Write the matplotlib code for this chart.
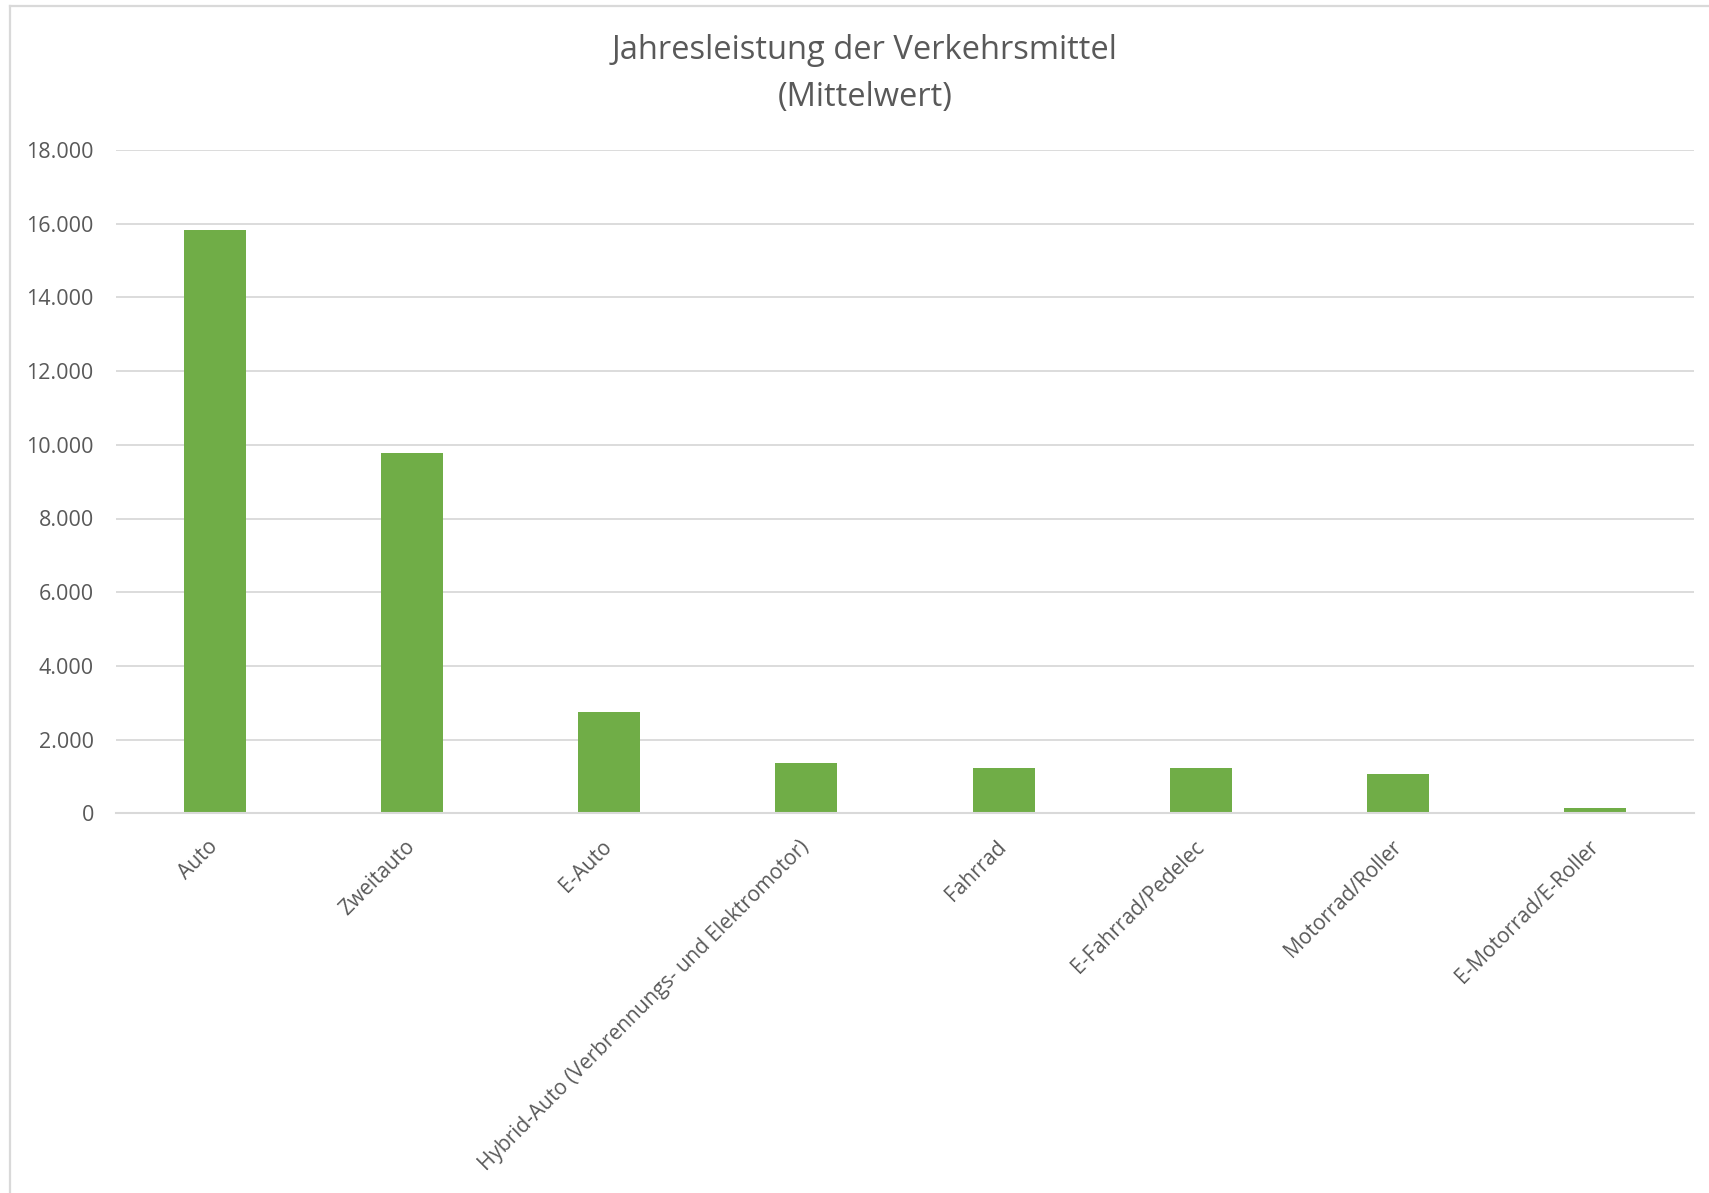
import matplotlib.pyplot as plt
from matplotlib.lines import Line2D
from matplotlib.ticker import FuncFormatter

plt.rcParams['font.family'] = ['Open Sans', 'DejaVu Sans']

# Jahresleistung in km (Mittelwert)
categories = ["Auto", "Zweitauto", "E-Auto",
              "Hybrid-Auto (Verbrennungs- und Elektromotor)",
              "Fahrrad", "E-Fahrrad/Pedelec", "Motorrad/Roller",
              "E-Motorrad/E-Roller"]
values = [15820, 9790, 2750, 1375, 1240, 1230, 1075, 145]
yticks = [0, 2000, 4000, 6000, 8000, 10000, 12000, 14000, 16000, 18000]

grey_text = "#595959"
grid_col = "#d9d9d9"
bar_col = "#70ad47"

W, H = 1709, 1193
fig = plt.figure(figsize=(W / 100, H / 100), dpi=100)
ax = fig.add_axes([116 / W, 1 - 813.3 / H, (1694 - 116) / W, (813.3 - 150) / H])

x = range(len(categories))
ax.bar(x, values, width=0.315, color=bar_col, zorder=3)

ax.set_xlim(-0.5, len(categories) - 0.5)
ax.set_ylim(0, 18000)
ax.set_yticks(yticks)
ax.yaxis.set_major_formatter(FuncFormatter(lambda v, p: f"{int(v):,}".replace(",", ".")))
ax.grid(axis="y", color=grid_col, linewidth=1.3, zorder=0)
ax.set_axisbelow(True)

for s in ["top", "right", "left"]:
    ax.spines[s].set_visible(False)
ax.spines["bottom"].set_color(grid_col)
ax.spines["bottom"].set_linewidth(1.5)
ax.spines["bottom"].set_zorder(4)

ax.tick_params(axis="y", length=0, pad=16, labelsize=15.5, labelcolor=grey_text)
ax.tick_params(axis="x", length=0, pad=22, labelsize=15, labelcolor=grey_text)
ax.set_xticks(list(x))
ax.set_xticklabels(categories, rotation=45, ha="right", va="center",
                   rotation_mode="anchor")

fig.text(865 / W, 1 - 74 / H, "Jahresleistung der Verkehrsmittel\n(Mittelwert)",
         ha="center", va="center", fontsize=23.5, color=grey_text, linespacing=1.55)

# chart area border (top and left edges)
fig.add_artist(Line2D([9.5 / W, 1], [1 - 6 / H, 1 - 6 / H], color=grid_col, linewidth=1.6))
fig.add_artist(Line2D([9.5 / W, 9.5 / W], [0, 1 - 6 / H], color=grid_col, linewidth=1.6))

fig.savefig("out.png", dpi=100, facecolor="white")
